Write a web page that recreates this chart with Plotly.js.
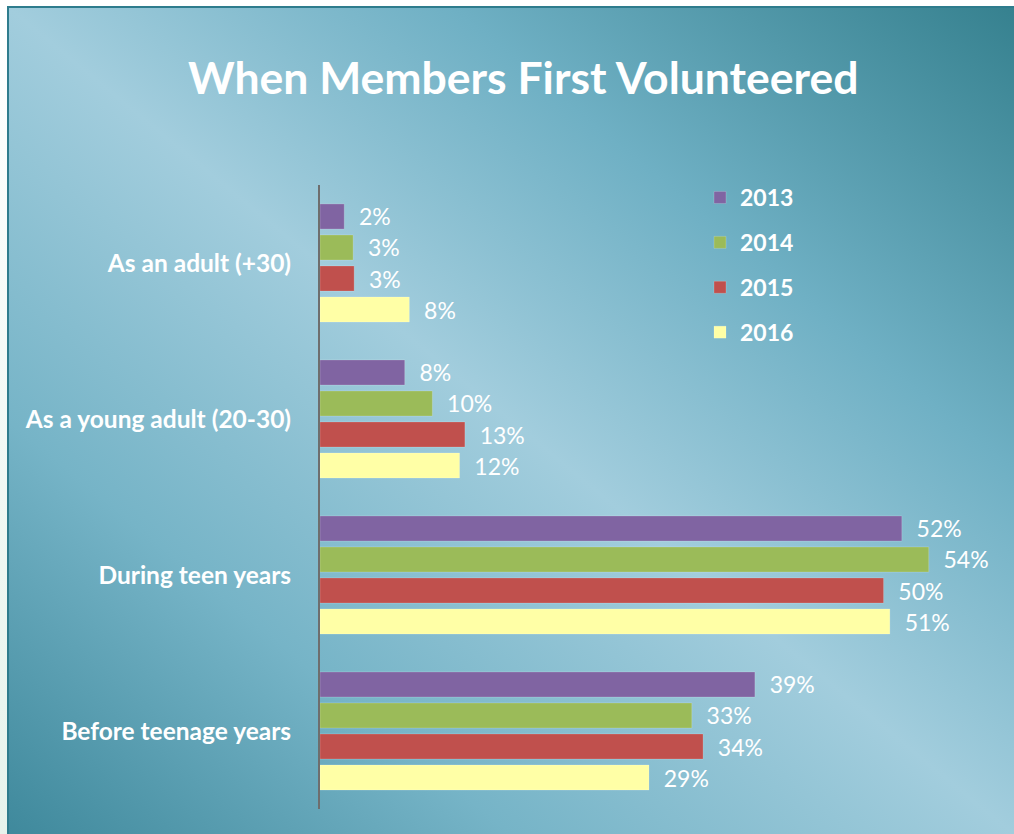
<!DOCTYPE html>
<html>
<head>
<meta charset="utf-8">
<script src="https://cdn.plot.ly/plotly-3.0.1.min.js"></script>
<style>
  html, body { margin: 0; padding: 0; background: #ffffff; width: 1014px; height: 834px; overflow: hidden; }
  #strip { position: absolute; left: 0; top: 6px; width: 7px; height: 828px; background: linear-gradient(to bottom, #ffffff, #e6f3ec); }
  #frame { position: absolute; left: 7px; top: 6px; width: 1007px; height: 828px; box-sizing: border-box;
           border-left: 2px solid #2e7c8d; border-top: 2px solid #2e7c8d;
           background: linear-gradient(to bottom left, #36818f 0%, #6fb0c4 28%, #a2cddd 50%, #76b4c7 75%, #3f899c 100%); }
  #chart { position: absolute; left: 0; top: 0; width: 1014px; height: 834px; }
</style>
</head>
<body>
<div id="strip"></div>
<div id="frame"></div>
<div id="chart"></div>
<script>
// Categories (top to bottom)
const categories = ["As an adult (+30)", "As a young adult (20-30)", "During teen years", "Before teenage years"];
// Series (percent)
const years = ["2013", "2014", "2015", "2016"];
const values2013 = [2.15, 7.52, 51.64, 38.6];
const values2014 = [2.94, 9.97, 54.03, 33.0];
const values2015 = [3.03, 12.86, 50.02, 34.0];
const values2016 = [7.93, 12.39, 50.58, 29.2];
const seriesValues = [values2013, values2014, values2015, values2016];
const colors = ["#8064a2", "#9bbb59", "#c0504d", "#ffffa6"];

const traces = seriesValues.map((vals, i) => ({
  type: "bar",
  orientation: "h",
  name: years[i],
  legendgroup: "g" + i,
  y: categories,
  x: vals,
  marker: { color: colors[i], line: { color: "rgba(255,255,255,0.18)", width: 1 } },
  texttemplate: "\u00a0\u00a0%{x:.0f}%",
  textposition: "outside",
  constraintext: "none",
  cliponaxis: false,
  textfont: { family: "Lato, sans-serif", size: 23, color: "#ffffff" },
  hoverinfo: "skip"
}));

const layout = {
  width: 1014,
  height: 834,
  paper_bgcolor: "rgba(0,0,0,0)",
  plot_bgcolor: "rgba(0,0,0,0)",
  margin: { l: 320, r: 18, t: 185, b: 25, pad: 0, autoexpand: false },
  barmode: "group",
  bargap: 0.205,
  bargroupgap: 0.19,
  title: {
    text: "When Members First Volunteered",
    font: { family: "Lato, sans-serif", size: 44.5, color: "#ffffff", weight: 700 },
    x: 0.516, xanchor: "center", xref: "container",
    y: 1 - 78 / 834, yanchor: "middle", yref: "container"
  },
  xaxis: {
    autorange: false,
    range: [0, 60],
    showgrid: false, zeroline: false, showline: false,
    showticklabels: false, ticks: ""
  },
  yaxis: {
    autorange: "reversed",
    type: "category",
    showgrid: false, zeroline: false,
    showline: true, linecolor: "#6e6e6e", linewidth: 2,
    ticks: "outside", ticklen: 22, tickcolor: "rgba(0,0,0,0)",
    tickfont: { family: "Lato, sans-serif", size: 24.5, color: "#ffffff", weight: 700 }
  },
  legend: {
    xref: "container", yref: "container",
    x: 700 / 1014, y: 1 - 176 / 834, xanchor: "left", yanchor: "top",
    traceorder: "grouped",
    tracegroupgap: 12,
    bgcolor: "rgba(0,0,0,0)",
    font: { family: "Lato, sans-serif", size: 23, color: "#ffffff", weight: 700 }
  },
  showlegend: true
};

Plotly.newPlot("chart", traces, layout, { displayModeBar: false, staticPlot: true });
</script>
</body>
</html>
